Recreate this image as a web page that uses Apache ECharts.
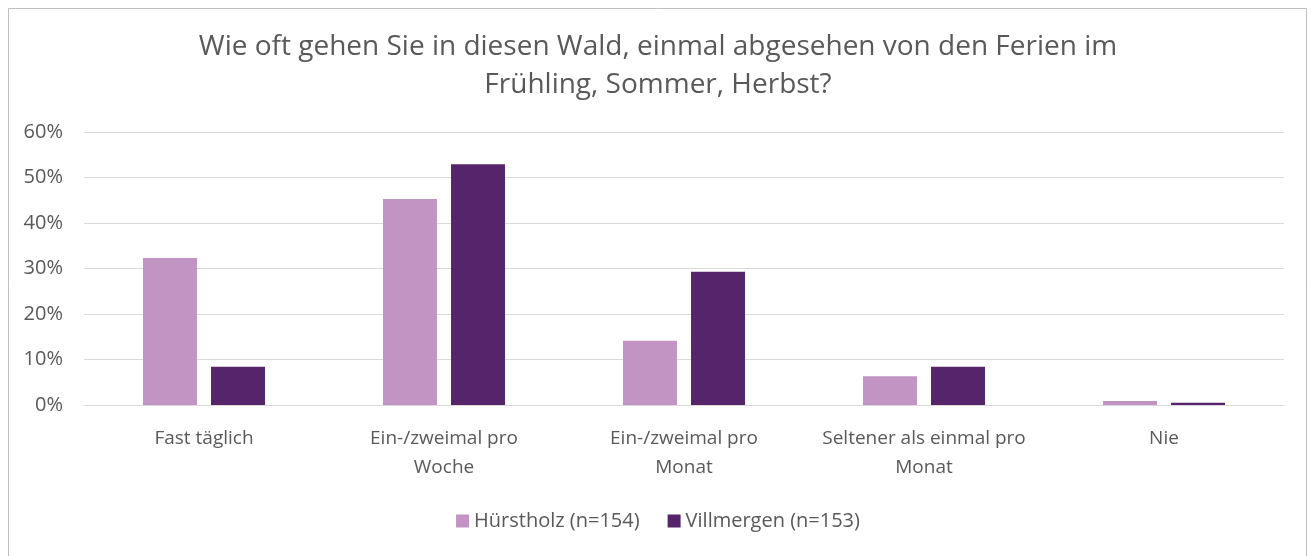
<!DOCTYPE html>
<html>
<head>
<meta charset="utf-8">
<script src="https://cdn.jsdelivr.net/npm/echarts@6/dist/echarts.min.js"></script>
<style>
    html, body { margin: 0; padding: 0; background: #fff; }
    #chart { width: 1316px; height: 556px; }
</style>
</head>
<body>
<div id="chart"></div>
<script>
var categories = ['Fast täglich', 'Ein-/zweimal pro\nWoche', 'Ein-/zweimal pro\nMonat', 'Seltener als einmal pro\nMonat', 'Nie'];
var huerstholz = [32.3, 45.3, 14.1, 6.3, 0.9];
var villmergen = [8.4, 52.9, 29.3, 8.4, 0.5];
var seriesNames = ['Hürstholz (n=154)', 'Villmergen (n=153)'];

var chart = echarts.init(document.getElementById('chart'));
var font = 'Open Sans';
var option = {
    animation: false,
    backgroundColor: '#fff',
    textStyle: { fontFamily: font },
    title: {
        text: 'Wie oft gehen Sie in diesen Wald, einmal abgesehen von den Ferien im\nFrühling, Sommer, Herbst?',
        left: 'center',
        top: 23,
        textStyle: {
            fontFamily: font,
            fontSize: 28,
            fontWeight: 'normal',
            color: '#595959',
            lineHeight: 38
        }
    },
    graphic: [{
        type: 'rect',
        shape: { x: 8.5, y: 8.5, width: 1298, height: 600 },
        style: { fill: 'none', stroke: '#bfbfbf', lineWidth: 1 },
        silent: true
    }],
    legend: {
        bottom: 20,
        left: 'center',
        itemWidth: 13,
        itemHeight: 13,
        itemGap: 28,
        icon: 'rect',
        textStyle: { fontFamily: font, fontSize: 20, color: '#595959' },
        data: seriesNames
    },
    grid: {
        left: 84,
        right: 32,
        top: 132,
        bottom: 151
    },
    xAxis: {
        type: 'category',
        data: categories,
        axisLine: { lineStyle: { color: '#d9d9d9', width: 1 } },
        axisTick: { show: false },
        axisLabel: {
            color: '#595959',
            fontSize: 19,
            lineHeight: 29,
            margin: 19,
            interval: 0
        }
    },
    yAxis: {
        type: 'value',
        min: 0,
        max: 60,
        interval: 10,
        axisLine: { show: false },
        axisTick: { show: false },
        splitLine: { lineStyle: { color: '#d9d9d9', width: 1 } },
        axisLabel: {
            color: '#595959',
            fontSize: 20,
            margin: 21,
            formatter: '{value}%'
        }
    },
    series: [{
        name: seriesNames[0],
        type: 'bar',
        barWidth: 54,
        barGap: '26%',
        itemStyle: { color: '#c294c4' },
        data: huerstholz
    }, {
        name: seriesNames[1],
        type: 'bar',
        barWidth: 54,
        itemStyle: { color: '#56246a' },
        data: villmergen
    }]
};
chart.setOption(option);
</script>
</body>
</html>
